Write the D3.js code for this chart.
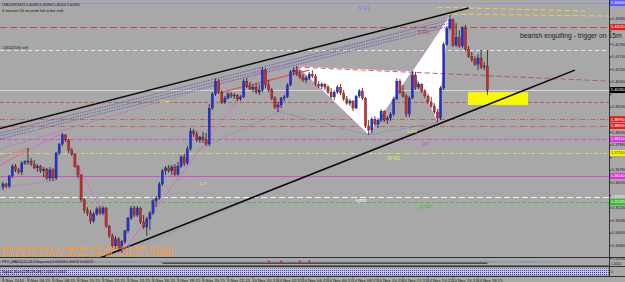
<!DOCTYPE html>
<html><head><meta charset="utf-8">
<script src="https://cdn.jsdelivr.net/npm/d3@7"></script>
<style>html,body{margin:0;padding:0;background:#a8a8a8;overflow:hidden}svg{display:block;font-family:"Liberation Sans",Arial,sans-serif}</style>
</head><body><svg id="c" width="625" height="282"></svg>
<script>
// ---------- DATA ----------
const opens=[5.3603,5.3616,5.3607,5.3651,5.3694,5.3677,5.3668,5.3707,5.3712,5.3716,
5.3703,5.3686,5.3694,5.3673,5.3681,5.3642,5.3677,5.3642,5.3751,5.3790,
5.3830,5.3808,5.3764,5.3747,5.3694,5.3655,5.3546,5.3502,5.3489,5.3454,
5.3485,5.3507,5.3489,5.3511,5.3432,5.3389,5.3345,5.3376,5.3336,5.3363,
5.3411,5.3467,5.3511,5.3480,5.3511,5.3450,5.3428,5.3463,5.3489,5.3542,
5.3555,5.3616,5.3673,5.3686,5.3673,5.3690,5.3659,5.3694,5.3734,5.3707,
5.3769,5.3847,5.3834,5.3808,5.3821,5.3808,5.3790,5.3947,5.4009,5.4065,
5.4017,5.3974,5.3991,5.4009,5.4000,5.4004,5.3987,5.3996,5.4065,5.4043,
5.4030,5.4039,5.4017,5.4026,5.4113,5.4048,5.4026,5.3991,5.3952,5.3961,
5.3991,5.3996,5.4048,5.4105,5.4113,5.4096,5.4083,5.4070,5.4078,5.4096,
5.4087,5.4052,5.4043,5.4052,5.4039,5.4017,5.3996,5.4017,5.4039,5.4013,
5.3987,5.3969,5.3978,5.3947,5.4000,5.4022,5.3991,5.3869,5.3851,5.3899,
5.3878,5.3895,5.3934,5.3895,5.3904,5.3921,5.3987,5.4065,5.4017,5.4000,
5.3921,5.3991,5.4091,5.4039,5.4052,5.4022,5.4000,5.3974,5.3956,5.3930,
5.3904,5.4035,5.4226,5.4297,5.4332,5.4222,5.4257,5.4218,5.4297,5.4205,
5.4174,5.4161,5.4139,5.4166,5.4126,5.4131];
const highs=[5.3625,5.3620,5.3655,5.3703,5.3703,5.3686,5.3716,5.3720,5.3773,5.3729,
5.3720,5.3703,5.3699,5.3690,5.3686,5.3690,5.3686,5.3756,5.3795,5.3838,
5.3834,5.3812,5.3773,5.3751,5.3699,5.3659,5.3555,5.3515,5.3502,5.3494,
5.3515,5.3520,5.3520,5.3515,5.3437,5.3398,5.3389,5.3384,5.3371,5.3415,
5.3472,5.3520,5.3520,5.3520,5.3515,5.3480,5.3472,5.3498,5.3550,5.3563,
5.3625,5.3681,5.3694,5.3699,5.3699,5.3703,5.3712,5.3742,5.3747,5.3782,
5.3860,5.3856,5.3847,5.3825,5.3843,5.3838,5.3965,5.4017,5.4078,5.4074,
5.4026,5.4000,5.4017,5.4017,5.4013,5.4009,5.4004,5.4074,5.4078,5.4061,
5.4052,5.4056,5.4052,5.4126,5.4122,5.4070,5.4035,5.4000,5.3974,5.3996,
5.4004,5.4056,5.4113,5.4126,5.4131,5.4113,5.4096,5.4087,5.4105,5.4113,
5.4096,5.4065,5.4061,5.4056,5.4048,5.4035,5.4026,5.4048,5.4052,5.4026,
5.4000,5.3987,5.3982,5.4004,5.4030,5.4035,5.3996,5.3895,5.3908,5.3912,
5.3904,5.3943,5.3939,5.3912,5.3930,5.3996,5.4078,5.4074,5.4048,5.4009,
5.4000,5.4109,5.4105,5.4061,5.4056,5.4030,5.4009,5.3996,5.3969,5.3943,
5.4043,5.4235,5.4305,5.4353,5.4340,5.4318,5.4288,5.4305,5.4310,5.4218,
5.4192,5.4174,5.4183,5.4201,5.4148,5.4201];
const lows=[5.3589,5.3598,5.3598,5.3642,5.3668,5.3659,5.3655,5.3699,5.3699,5.3694,
5.3681,5.3668,5.3664,5.3646,5.3633,5.3629,5.3629,5.3633,5.3742,5.3782,
5.3799,5.3751,5.3738,5.3686,5.3642,5.3537,5.3489,5.3476,5.3441,5.3446,
5.3476,5.3480,5.3480,5.3424,5.3380,5.3336,5.3332,5.3319,5.3314,5.3354,
5.3402,5.3459,5.3472,5.3472,5.3441,5.3419,5.3389,5.3415,5.3480,5.3515,
5.3546,5.3607,5.3655,5.3664,5.3655,5.3651,5.3651,5.3686,5.3694,5.3699,
5.3760,5.3821,5.3799,5.3795,5.3795,5.3782,5.3782,5.3939,5.4000,5.4009,
5.3965,5.3965,5.3987,5.3991,5.3987,5.3978,5.3978,5.3991,5.4035,5.4026,
5.4017,5.4009,5.4004,5.4017,5.4035,5.4017,5.3982,5.3943,5.3930,5.3947,
5.3978,5.3991,5.4043,5.4091,5.4087,5.4074,5.4061,5.4056,5.4070,5.4078,
5.4043,5.4035,5.4030,5.4026,5.4009,5.3987,5.3982,5.4009,5.4004,5.3978,
5.3961,5.3956,5.3934,5.3943,5.3991,5.3982,5.3860,5.3830,5.3838,5.3869,
5.3860,5.3886,5.3886,5.3878,5.3891,5.3912,5.3982,5.4009,5.3991,5.3908,
5.3908,5.3987,5.4026,5.4030,5.4013,5.3991,5.3965,5.3947,5.3921,5.3886,
5.3895,5.4026,5.4218,5.4288,5.4214,5.4214,5.4209,5.4209,5.4196,5.4166,
5.4148,5.4131,5.4113,5.4118,5.4113,5.4004];
const closes=[5.3616,5.3607,5.3651,5.3694,5.3677,5.3668,5.3707,5.3712,5.3716,5.3703,
5.3686,5.3694,5.3673,5.3681,5.3642,5.3677,5.3642,5.3751,5.3790,5.3830,
5.3808,5.3764,5.3747,5.3694,5.3655,5.3546,5.3502,5.3489,5.3454,5.3485,
5.3507,5.3489,5.3511,5.3432,5.3389,5.3345,5.3376,5.3336,5.3363,5.3411,
5.3467,5.3511,5.3480,5.3511,5.3450,5.3428,5.3463,5.3489,5.3542,5.3555,
5.3616,5.3673,5.3686,5.3673,5.3690,5.3659,5.3694,5.3734,5.3707,5.3769,
5.3847,5.3834,5.3808,5.3821,5.3808,5.3790,5.3947,5.4009,5.4065,5.4017,
5.3974,5.3991,5.4009,5.4000,5.4004,5.3987,5.3996,5.4065,5.4043,5.4030,
5.4039,5.4017,5.4026,5.4113,5.4048,5.4026,5.3991,5.3952,5.3961,5.3991,
5.3996,5.4048,5.4105,5.4113,5.4096,5.4083,5.4070,5.4078,5.4096,5.4087,
5.4052,5.4043,5.4052,5.4039,5.4017,5.3996,5.4017,5.4039,5.4013,5.3987,
5.3969,5.3978,5.3947,5.4000,5.4022,5.3991,5.3869,5.3851,5.3899,5.3878,
5.3895,5.3934,5.3895,5.3904,5.3921,5.3987,5.4065,5.4017,5.4000,5.3921,
5.3991,5.4091,5.4039,5.4052,5.4022,5.4000,5.3974,5.3956,5.3930,5.3904,
5.4035,5.4226,5.4297,5.4336,5.4222,5.4257,5.4218,5.4297,5.4205,5.4174,
5.4161,5.4139,5.4166,5.4126,5.4131,5.4026];

const timeLabels=["9 Nov 2010","9 Nov 06:15","9 Nov 08:15","9 Nov 10:15","9 Nov 12:15","9 Nov 14:15","9 Nov 16:15","9 Nov 18:15","9 Nov 20:15","9 Nov 22:15","10 Nov 00:15","10 Nov 02:15","10 Nov 04:15","10 Nov 06:15","10 Nov 08:15","10 Nov 10:15","10 Nov 12:15","10 Nov 14:15","10 Nov 16:15","10 Nov 18:15"];
const timeLabelBars=[0,8,16,24,32,40,48,56,64,72,80,88,96,104,112,120,128,136,144,152];
const priceTicks=[5.43380,5.42830,5.42280,5.41730,5.41180,5.40630,5.40080,5.39530,5.38980,5.38430,5.37880,5.37330,5.36780,5.36230,5.35680,5.35130,5.34580,5.34030,5.33480,5.32930];

const levelNames=["M R1","D R1","sell","bid","L1","L2","L3","DP","W R1","L4","MPP","W PP"];
const levelPrices=[5.4406,5.4301,5.4201,5.4026,5.3974,5.3899,5.3869,5.3812,5.3751,5.3651,5.3559,5.3537];

const channelTop=[[-1,5.3858],[149,5.4384]];
const channelBottom=[[31,5.3293],[183,5.4113]];
const fanLines=[[[-1,5.3838],[143,5.4332]],[[-1,5.3825],[143,5.4318]],[[-1,5.3812],[143,5.4305]]];
const pinkDotted=[[-1,5.3769],[141.4,5.4340]];
const xbExtension=[[94,5.4126],[194,5.4065]];
const redSegment=[[70,5.4017],[98,5.4113]];
const zigzag=[[-1,5.3699],[19,5.3838],[38,5.3314],[83,5.4126],[88,5.3930],[94,5.4131]];
const dottedLines=[[[88.6,5.3930],[117,5.3830]],[[117,5.3830],[139,5.3886]],[[44,5.3349],[139,5.3886]],[[62.4,5.3764],[89.6,5.3939]],[[-1,5.3598],[17.3,5.3633]]];
const wedgeLines=[[[-1,5.3729],[8.3,5.3773]],[[-1,5.3694],[8.3,5.3773]]];
const yellowDashes=[[[138.9,5.4388],[186.2,5.4371]],[[141.4,5.4358],[194.2,5.4349]]];
const butterfly={X:[94,5.4131],A:[117,5.3830],B:[131,5.4109],C:[139,5.3886],D:[143,5.4353]};
const targetBox=[[148.8,5.4017],[168,5.3961]];
const fibLabels=[["0.886",50.2,5.3969],["1.27",62.7,5.3612],["0.786",113.3,5.4105],["1.618",129.3,5.3838],["1.13",8.6,5.3851]];
const pfoSignalBars=[85,89,95,98];

const titleText="USDDKK,M15  5.40460 5.40960 5.40114 5.40260";
const timerText="4 minutes 54 seconds left to bar end";
const orderText="#26022590 sell";
const noteText="bearish engulfing - trigger on 15m";
const patternText1="Bearish Butterfly in USDDKK 15M, 3005 001 PFO_v02.mq4";
const patternText2="Entry Risk: 0.01715 , Range 5.43060 - 5.40121 = 0.02881";

// ---------- DRAW ----------
const svg=d3.select("#c");
const plotR=609, plotB=257;
const x=d3.scaleLinear().domain([0,opens.length-1]).range([3,487.4]);
const y=d3.scaleLinear().domain([5.3293,5.4338]).range([257.9,18.6]);
const fmt=d3.format(".5f");

svg.append("rect").attr("width",625).attr("height",282).attr("fill","#a8a8a8");
const defs=svg.append("defs");
defs.append("clipPath").attr("id","clip").append("rect").attr("x",0).attr("y",0).attr("width",plotR).attr("height",plotB);
const pat=defs.append("pattern").attr("id","dots").attr("width",2).attr("height",2).attr("patternUnits","userSpaceOnUse");
pat.append("rect").attr("width",2).attr("height",2).attr("fill","#c4c4ea");
pat.append("rect").attr("width",1).attr("height",1).attr("fill","#3a3ab8");

const g=svg.append("g").attr("clip-path","url(#clip)");

const levelStyle={
 "M R1":{stroke:"#8484e6",dash:"1,1",w:1,tag:"#5c5cf0",tagText:"#ffffff",lx:113.6,dy:6,lc:"#7878ff"},
 "D R1":{stroke:"#c24a4a",dash:"7,3",w:1,tag:"#e02020",tagText:"#ffffff",lx:132.8,dy:6,lc:"#cc3030"},
 "sell":{stroke:"#e6e6e6",dash:"4,3",w:1},
 "bid":{stroke:"#d6d6d6",dash:null,w:1,tag:"#000000",tagText:"#ffffff"},
 "L1":{stroke:"#c44c4c",dash:"4,2",w:0.8},
 "L2":{stroke:"#c85050",dash:"5,2,1,2",w:0.8,tag:"#e02020",tagText:"#ffffff"},
 "L3":{stroke:"#c85050",dash:"5,2,1,2",w:0.8,tag:"#e02020",tagText:"#ffffff"},
 "DP":{stroke:"#d24ed2",dash:"5,2",w:1,tag:"#e030e0",tagText:"#ffffff",lx:134,dy:6,lc:"#d040d0"},
 "W R1":{stroke:"#e4e468",dash:"4,2,1,2",w:0.9,tag:"#f4f400",tagText:"#404000",lx:123,dy:6,lc:"#e8e860"},
 "L4":{stroke:"#d050d0",dash:null,w:1,tag:"#e030e0",tagText:"#ffffff"},
 "MPP":{stroke:"#f2f2f2",dash:"6,3",w:1,tag:null,tagText:"#ffffff",lx:112.8,dy:5,lc:"#f4f4f4"},
 "W PP":{stroke:"#3cbc3c",dash:"4,2",w:0.9,tag:"#30c030",tagText:"#ffffff",lx:133,dy:6,lc:"#40c040"}
};

levelNames.forEach((n,k)=>{
  const s=levelStyle[n], yy=Math.round(y(levelPrices[k]))+0.5;
  const ln=g.append("line").attr("x1",0).attr("x2",plotR).attr("y1",yy).attr("y2",yy).attr("stroke",s.stroke).attr("stroke-width",s.w);
  if(s.dash) ln.attr("stroke-dasharray",s.dash);
  if(s.lx!==undefined){
    g.append("text").attr("x",x(s.lx)).attr("y",yy+s.dy).attr("font-size",5).attr("fill",s.lc).text(n);
  }
});

const line=d3.line().x(d=>x(d[0])).y(d=>y(d[1]));
function drawLine(pts,stroke,w,dash){
  const p=g.append("path").attr("d",line(pts)).attr("fill","none").attr("stroke",stroke).attr("stroke-width",w);
  if(dash) p.attr("stroke-dasharray",dash);
  return p;
}

const bf=butterfly;
g.append("path").attr("d",line([bf.X,bf.A,bf.B])+"Z").attr("fill","#ffffff").attr("stroke","#d070d0").attr("stroke-width",0.6);
g.append("path").attr("d",line([bf.B,bf.C,bf.D])+"Z").attr("fill","#ffffff").attr("stroke","#d070d0").attr("stroke-width",0.6);

fanLines.forEach(l=>drawLine(l,"#5656b4",0.8,"1.5,1"));
drawLine(pinkDotted,"#b050b8",0.8,"1,1.5");
dottedLines.forEach((l,k)=>drawLine(l,k<2?"#6464a0":"#a452b4",0.7,"1,1.5"));
wedgeLines.forEach(l=>drawLine(l,"#e07456",0.8));
drawLine(zigzag,"#e060e0",0.8);
drawLine(redSegment,"#e45050",1.2);
drawLine(xbExtension,"#c04c4c",0.9,"5,3");
yellowDashes.forEach(l=>drawLine(l,"#e6d650",1,"5,3"));

g.append("rect").attr("x",x(targetBox[0][0])).attr("y",y(targetBox[0][1]))
 .attr("width",x(targetBox[1][0])-x(targetBox[0][0])).attr("height",y(targetBox[1][1])-y(targetBox[0][1])).attr("fill","#f8f800");

const bars=opens.map((o,i)=>({i,o,h:highs[i],l:lows[i],c:closes[i]}));
g.selectAll("line.wick").data(bars).join("line").attr("class","wick")
 .attr("x1",d=>x(d.i)).attr("x2",d=>x(d.i)).attr("y1",d=>y(d.h)).attr("y2",d=>y(d.l))
 .attr("stroke","#1c1c1c").attr("stroke-width",0.8);
g.selectAll("rect.body").data(bars).join("rect").attr("class","body")
 .attr("x",d=>x(d.i)-1.15).attr("width",2.3)
 .attr("y",d=>y(Math.max(d.o,d.c))).attr("height",d=>Math.max(0.8,Math.abs(y(d.o)-y(d.c))))
 .attr("fill",d=>d.c>=d.o?"#1e30e0":"#cc2828").attr("stroke","#222").attr("stroke-width",0.25);

drawLine(channelTop,"#0c0c0c",1.6);
drawLine(channelBottom,"#0c0c0c",1.6);

fibLabels.forEach(f=>g.append("text").attr("x",x(f[1])).attr("y",y(f[2])).attr("font-size",4).attr("fill",f[0]==="1.13"?"#c8c8c8":"#e4e46a").text(f[0]));

svg.append("text").attr("x",2).attr("y",6).attr("font-size",4).attr("fill","#1a1a1a").attr("textLength",78).text(titleText);
svg.append("text").attr("x",2).attr("y",11.5).attr("font-size",4).attr("fill","#1a1a1a").attr("textLength",61).text(timerText);
svg.append("text").attr("x",2).attr("y",49).attr("font-size",4).attr("fill","#1a1a1a").attr("textLength",26).text(orderText);
svg.append("text").attr("x",520).attr("y",38).attr("font-size",6.8).attr("fill","#1e1e1e").text(noteText);
svg.append("text").attr("x",2).attr("y",250).attr("font-size",5.4).attr("font-weight","bold").attr("fill","#ff9a30").attr("textLength",171).text(patternText1);
svg.append("text").attr("x",2).attr("y",256).attr("font-size",5.4).attr("font-weight","bold").attr("fill","#ff9a30").attr("textLength",171).text(patternText2);

// price axis (tick labels that would sit under a coloured level tag are hidden, as the tag covers them)
const tagged=levelNames.map((n,k)=>levelStyle[n].tagText?y(levelPrices[k]):null).filter(v=>v!==null);
const yAxis=d3.axisRight(y).tickValues(priceTicks).tickFormat(fmt).tickSize(2).tickPadding(0.6);
const ag=svg.append("g").attr("transform",`translate(${plotR+0.5},0)`).call(yAxis);
ag.select(".domain").remove();
ag.selectAll(".tick line").attr("stroke","#2a2a2a");
ag.selectAll(".tick text").attr("font-size",3.8).attr("fill","#1a1a1a").attr("font-family","Liberation Sans, Arial");
ag.selectAll(".tick").filter(d=>tagged.some(t=>Math.abs(t-y(d))<5.2)).select("text").remove();
svg.append("line").attr("x1",plotR+0.5).attr("x2",plotR+0.5).attr("y1",0).attr("y2",277).attr("stroke","#303030");

levelNames.forEach((n,k)=>{
  const s=levelStyle[n]; if(!s.tagText) return;
  const yy=y(levelPrices[k]);
  if(s.tag) svg.append("rect").attr("x",plotR+1).attr("y",yy-3).attr("width",15).attr("height",6).attr("fill",s.tag);
  svg.append("text").attr("x",plotR+2).attr("y",yy+1.4).attr("font-size",3.8).attr("fill",s.tagText).text(fmt(levelPrices[k]));
});

// indicator panels
[257.5,266.5,276.5].forEach(v=>svg.append("line").attr("x1",0).attr("x2",625).attr("y1",v).attr("y2",v).attr("stroke","#303030").attr("stroke-width",1));
svg.append("line").attr("x1",0).attr("x2",plotR).attr("y1",265.5).attr("y2",265.5).attr("stroke","#6a6a6a");
svg.append("line").attr("x1",0).attr("x2",560).attr("y1",262).attr("y2",262).attr("stroke","#4040c0").attr("stroke-width",0.8).attr("stroke-dasharray","1,1.5");
svg.append("line").attr("x1",x(51)).attr("x2",x(155)).attr("y1",263.2).attr("y2",263.2).attr("stroke","#101010").attr("stroke-width",0.9);
pfoSignalBars.forEach(b=>{
  const cx=x(b);
  svg.append("path").attr("d",`M${cx-1.5},261.5H${cx+1.5}M${cx},260V263`).attr("stroke","#e02020").attr("stroke-width",0.7);
});
svg.append("text").attr("x",2).attr("y",262.8).attr("font-size",3.6).attr("fill","#101010").text("PFO_MACD(12,26,9,Keyzone) 0.00018 0.00074 0.00012");
svg.append("rect").attr("x",0).attr("y",268.5).attr("width",plotR).attr("height",6.5).attr("fill","url(#dots)");
svg.append("text").attr("x",2).attr("y",272.6).attr("font-size",3.6).attr("fill","#101010").text("Signal_Bars(15M,1H,4H) 1.0000 1.0000");
svg.append("text").attr("x",plotR+2).attr("y",264.6).attr("font-size",3.4).attr("fill","#1a1a1a").text("1.4050");
svg.append("text").attr("x",plotR+2).attr("y",273).attr("font-size",3.6).attr("fill","#1a1a1a").text("0");

// time axis
timeLabelBars.forEach((b,k)=>{
  svg.append("line").attr("x1",x(b)).attr("x2",x(b)).attr("y1",276.5).attr("y2",278.5).attr("stroke","#303030").attr("stroke-width",0.6);
  svg.append("text").attr("x",x(b)-1).attr("y",281.5).attr("font-size",4.3).attr("fill","#1a1a1a").text(timeLabels[k]);
});
</script></body></html>
